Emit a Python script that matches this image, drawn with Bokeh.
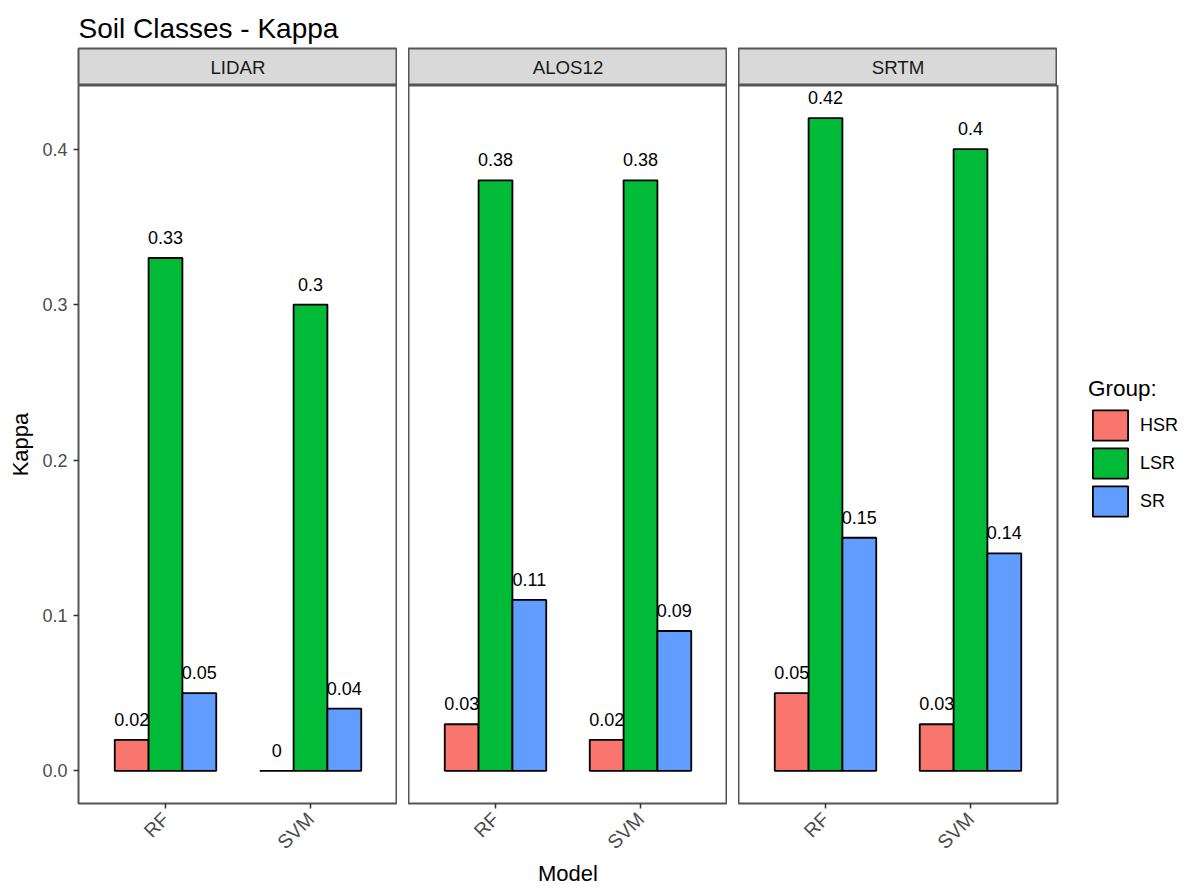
import math

from bokeh.core.properties import value
from bokeh.embed import file_html
from bokeh.layouts import column, row
from bokeh.models import ColumnDataSource, FixedTicker, Legend, LegendItem, Range1d
from bokeh.plotting import figure
from bokeh.resources import INLINE
from bokeh.transform import dodge

# ---- data -------------------------------------------------------------
facets = ["LIDAR", "ALOS12", "SRTM"]
models = ["RF", "SVM"]
groups = ["HSR", "LSR", "SR"]

# Kappa per facet, as [RF, SVM]
hsr_kappa = [[0.02, 0.00], [0.03, 0.02], [0.05, 0.03]]
lsr_kappa = [[0.33, 0.30], [0.38, 0.38], [0.42, 0.40]]
sr_kappa = [[0.05, 0.04], [0.11, 0.09], [0.15, 0.14]]

y_ticks = [0.0, 0.1, 0.2, 0.3, 0.4]
y_tick_labels = ["0.0", "0.1", "0.2", "0.3", "0.4"]

title_text = "Soil Classes - Kappa"
x_title = "Model"
y_title = "Kappa"
legend_title = "Group:"

# ---- styling ----------------------------------------------------------
FONT = "Liberation Sans"
colors = ["#F8766D", "#00BA38", "#619CFF"]
border_col = "#555555"
tick_col = "#4d4d4d"

series = [hsr_kappa, lsr_kappa, sr_kappa]

# discrete x scale with ggplot-like padding around the two models
pos = [i + 1 for i in range(len(models))]
x_lo, x_hi = 1 - 0.6, len(models) + 0.6
dodge_total = 0.7
bar_w = dodge_total / len(groups)

ymax = max(max(max(v) for v in s) for s in series)
pad = 0.05 * ymax
y_range = Range1d(-pad, ymax + pad)

FRAME_W = 319
FRAME_H = 718
STRIP_H = 37
TOP = 48
LEFT = 78
RIGHT = 132
BOTTOM = 86


def fmt(v):
    return f"{v:g}"


columns = []
for fi, facet in enumerate(facets):
    x_range = Range1d(x_lo, x_hi)

    # facet strip
    strip = figure(
        frame_width=FRAME_W, frame_height=STRIP_H,
        min_border_left=LEFT if fi == 0 else 0, min_border_right=0,
        min_border_top=TOP, min_border_bottom=0,
        x_range=x_range, y_range=Range1d(0, 1),
        x_axis_location=None, y_axis_location=None,
        toolbar_location=None, output_backend="svg",
    )
    strip.grid.visible = False
    strip.background_fill_color = "#d9d9d9"
    strip.outline_line_color = border_col
    strip.outline_line_width = 2
    strip.text(
        x=[(x_lo + x_hi) / 2], y=[0.5], text=[facet],
        text_align="center", text_baseline="middle",
        text_font=value(FONT), text_font_size="18.7px", text_color="#1a1a1a",
    )
    if fi == 0:
        strip.title.text = title_text
        strip.title.text_font = FONT
        strip.title.text_font_size = "28px"
        strip.title.text_font_style = "normal"
        strip.title.text_color = "black"
        strip.title.standoff = 10
        strip.title.offset = 0

    # panel
    p = figure(
        frame_width=FRAME_W, frame_height=FRAME_H,
        min_border_left=LEFT if fi == 0 else 0,
        min_border_right=RIGHT if fi == len(facets) - 1 else 0,
        min_border_top=0, min_border_bottom=BOTTOM,
        x_range=x_range, y_range=y_range,
        y_axis_location="left" if fi == 0 else None,
        toolbar_location=None, output_backend="svg",
    )
    p.grid.visible = False
    p.background_fill_color = "white"
    p.outline_line_color = border_col
    p.outline_line_width = 2

    xa = p.xaxis[0]
    xa.ticker = FixedTicker(ticks=pos)
    xa.major_label_overrides = {pv: m for pv, m in zip(pos, models)}
    xa.major_label_orientation = math.pi / 4
    xa.axis_line_color = None
    xa.major_tick_line_color = "#333333"
    xa.major_tick_line_width = 1.5
    xa.major_tick_out = 5
    xa.major_tick_in = 0
    xa.minor_tick_line_color = None
    xa.major_label_text_font = FONT
    xa.major_label_text_font_size = "19.5px"
    xa.major_label_text_color = tick_col
    xa.major_label_standoff = 7
    if fi == 1:
        xa.axis_label = x_title
        xa.axis_label_text_font = FONT
        xa.axis_label_text_font_size = "22px"
        xa.axis_label_text_font_style = "normal"
        xa.axis_label_text_color = "black"
        xa.axis_label_standoff = -3

    if fi == 0:
        ya = p.yaxis[0]
        ya.ticker = FixedTicker(ticks=y_ticks)
        ya.major_label_overrides = {t: s for t, s in zip(y_ticks, y_tick_labels)}
        ya.axis_line_color = None
        ya.major_tick_line_color = "#333333"
        ya.major_tick_line_width = 1.5
        ya.major_tick_out = 5
        ya.major_tick_in = 0
        ya.minor_tick_line_color = None
        ya.major_label_text_font = FONT
        ya.major_label_text_font_size = "18px"
        ya.major_label_text_color = tick_col
        ya.major_label_standoff = 6
        ya.axis_label = y_title
        ya.axis_label_text_font = FONT
        ya.axis_label_text_font_size = "22px"
        ya.axis_label_text_font_style = "normal"
        ya.axis_label_text_color = "black"
        ya.axis_label_standoff = 6

    renderers = []
    for gi, (grp, col, vals) in enumerate(zip(groups, colors, series)):
        offset = (gi - (len(groups) - 1) / 2) * bar_w
        src = ColumnDataSource(dict(
            pos=pos, val=vals[fi], label=[fmt(v) for v in vals[fi]],
        ))
        r = p.vbar(
            x=dodge("pos", offset), top="val", bottom=0, width=bar_w,
            fill_color=col, line_color="black", line_width=1.8, source=src,
        )
        p.text(
            x=dodge("pos", offset), y="val", text="label",
            text_align="center", text_baseline="bottom", y_offset=-14,
            text_font=value(FONT), text_font_size="18px", text_color="black",
            source=src,
        )
        renderers.append(r)

    if fi == len(facets) - 1:
        legend = Legend(
            items=[LegendItem(label=g, renderers=[r]) for g, r in zip(groups, renderers)],
            title=legend_title,
            location=(31, 283),
            margin=0, padding=0,
            border_line_color=None, background_fill_alpha=0,
            glyph_width=44, glyph_height=38,
            label_standoff=8, spacing=0,
            label_text_font=FONT, label_text_font_size="18px",
            label_text_color="black",
            title_text_font=FONT, title_text_font_size="22.5px",
            title_text_font_style="normal", title_text_color="black",
            title_standoff=4,
        )
        p.add_layout(legend, "right")

    columns.append(column(strip, p, spacing=0))

layout = row(*columns, spacing=11)

open("out.html", "w").write(file_html(layout, INLINE))
